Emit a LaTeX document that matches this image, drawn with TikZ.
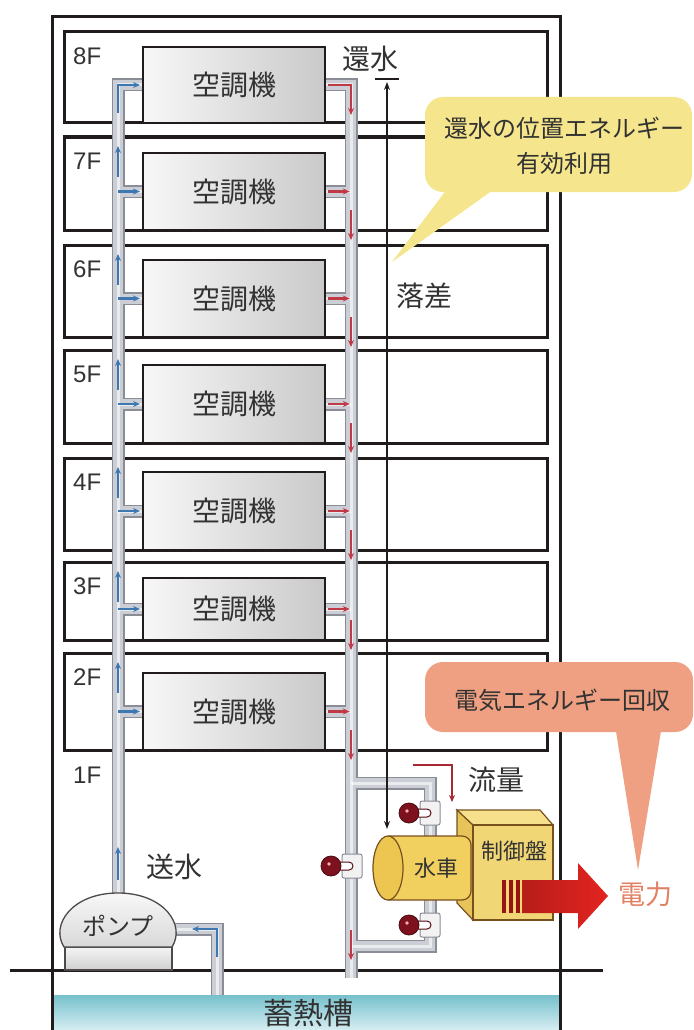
\documentclass[tikz,border=0pt]{standalone}
\usepackage{fontspec}
\setmainfont{Liberation Sans}
\newfontfamily\jp{Noto Sans CJK JP}
\usetikzlibrary{arrows.meta}
\definecolor{linecol}{RGB}{32,28,28}
\definecolor{txtcol}{RGB}{50,50,50}
\definecolor{supplyblue}{RGB}{62,120,178}
\definecolor{returnred}{RGB}{192,58,70}
\definecolor{flowred}{RGB}{165,40,50}
\definecolor{pipeedge}{RGB}{138,140,150}
\definecolor{pipefill}{RGB}{204,206,214}
\definecolor{notefill}{RGB}{245,229,140}
\definecolor{powerfill}{RGB}{239,160,130}
\definecolor{powertext}{RGB}{226,128,100}
\definecolor{machedge}{RGB}{120,80,30}
\definecolor{turbinefill}{RGB}{241,208,96}
\definecolor{turbinecap}{RGB}{236,198,80}
\definecolor{panelfront}{RGB}{241,214,118}
\definecolor{panelside}{RGB}{230,196,90}
\definecolor{paneltop}{RGB}{247,224,140}
\definecolor{valvered}{RGB}{125,18,30}
\definecolor{tanktop}{RGB}{118,192,204}
\definecolor{tankbot}{RGB}{214,238,242}
\definecolor{arrowred}{RGB}{228,36,32}
\definecolor{stripered}{RGB}{150,20,20}
\tikzset{
  wall/.style={draw=linecol,line width=3pt},
  acunit/.style={draw=linecol,line width=1.6pt,left color=gray!6,right color=gray!42,
    minimum width=182pt,inner sep=0pt,text=txtcol,font=\jp\fontsize{28}{30}\selectfont},
  pipeout/.style={draw=pipeedge,line width=13pt},
  pipein/.style={draw=pipefill,line width=10pt},
  pipehi/.style={draw=white,line width=3pt,opacity=.6},
  supflow/.style={supplyblue,line width=2.1pt,-{Stealth[length=7pt,width=6pt]}},
  retflow/.style={returnred,line width=2.1pt,-{Stealth[length=7pt,width=6pt]}},
  flabel/.style={anchor=west,inner sep=0pt,text=txtcol,font=\fontsize{24}{26}\selectfont},
  jlabel/.style={inner sep=0pt,text=txtcol,font=\jp\fontsize{28}{30}\selectfont},
  machine/.style={draw=machedge,line width=1.2pt},
  pics/valve/.style={code={
    \draw[pipeedge,fill=gray!10,line width=1pt,rounded corners=2pt] (-10,-12) rectangle (10,12);
    \draw[valvered!70!black,line width=1pt,fill=white] (-12,-4) -- (-3,-4) arc[start angle=-90,end angle=90,radius=4] -- (-12,4);
    \draw[valvered!60!black,fill=valvered,line width=.8pt] (-21,0) circle[radius=10];
    \fill[red!30!white] (-23,-2) circle[radius=1.8];
  }}
}
\begin{document}
\begin{tikzpicture}[x=1pt,y=-1pt]
\useasboundingbox (0,0) rectangle (693,1030);
\shade[top color=tanktop,bottom color=tankbot] (52,995) rectangle (560,1030);
\foreach \n/\ya/\yb/\yc in {8/32/123/47,7/137/230/153,6/245/337/260,5/350/443/365,4/458/550/472,3/562/640/578,2/653/750/673}{
    \draw[wall] (64,\ya) rectangle (547,\yb);
    \node[flabel] (fl\n) at (73,\ya+24) {\n F};
    \node[acunit,minimum height={(\yb-\yc)*1pt}] (ac\n) at (234,{(\yc+\yb)/2}) {空調機};
}
\node[flabel] (fl1) at (73,775) {1F};
\draw[wall] (52,1030) -- (52,17) -- (560,17) -- (560,1030);
\draw[wall] (10,970) -- (603,970);

\coordinate (sup) at (118,85);
\coordinate (ret) at (351,85);
\coordinate (pumptop) at (118,895);
\coordinate (retend) at (351,978);
\coordinate (pumpin) at (172,929);
\foreach \pass in {pipeout,pipein,pipehi}{
    \draw[\pass] (ac8.west) -- (sup) -- (pumptop);
    \draw[\pass] (ac8.east) -- (ret) -- (retend);
    \foreach \n in {7,...,2}{
        \draw[\pass] (ac\n.west) -- (sup |- ac\n.west);
        \draw[\pass] (ac\n.east) -- (ret |- ac\n.east);
    }
    \draw[\pass] (351,783) -- (430,783) -- (430,946) -- (351,946);
    \draw[\pass] (pumpin) -- (217,929) -- (217,995);
}

\draw[supflow] (118,113) -- (118,85) -- (140,85);
\draw[retflow] (328,85) -- (351,85) -- (351,115);
\foreach \n/\ya/\yb in {7/137/230,6/245/337,5/350/443,4/458/550,3/562/640,2/653/750}{
    \draw[supflow] (118,\ya+40) -- (118,\ya+9);
    \draw[supflow] (sup |- ac\n.west) -- ++(22,0);
    \draw[retflow] ([xshift=2pt]ac\n.east) -- ++(22,0);
    \draw[retflow] (351,\yb-20) -- (351,\yb+10);
}
\draw[retflow] (351,930) -- (351,960);
\draw[supflow] (118,880) -- (118,847);
\draw[supflow] (217,957) -- (217,929) -- (192,929);
\draw[flowred,line width=1.7pt,-{Stealth[length=7pt,width=6pt]}] (413,765) -- (452,765) -- (452,802);

% pump
\draw[draw=linecol!80,line width=1.3pt,top color=gray!8,bottom color=gray!38] (65,947) rectangle (172,970);
\draw[draw=linecol!80,line width=1.3pt,top color=gray!6,bottom color=gray!30]
    (64,947) .. controls (50,925) and (72,893) .. (118,893) .. controls (164,893) and (186,925) .. (172,947) -- cycle;
\node[jlabel,font=\jp\fontsize{24}{26}\selectfont] (pump) at (118,926) {ポンプ};

\pic at (430,813) {valve};
\pic at (430,925) {valve};
\pic at (352,866) {valve};

% control panel and turbine
\draw[machine,fill=panelside] (457,810) -- (473,825) -- (473,920) -- (457,903) -- cycle;
\draw[machine,fill=paneltop] (457,810) -- (540,810) -- (553,825) -- (473,825) -- cycle;
\draw[machine,fill=panelfront] (473,825) rectangle (553,920);
\node[jlabel,font=\jp\fontsize{22}{24}\selectfont] (panel) at (514,851) {制御盤};
\draw[machine,fill=turbinefill,rounded corners=9pt] (388,836) -- (471,836) -- (471,900) -- (388,900);
\draw[machine,fill=turbinecap] (388,868) ellipse[x radius=15,y radius=32];
\node[jlabel,font=\jp\fontsize{22}{24}\selectfont] (turbine) at (436,868) {水車};
\foreach \x in {502,509,516}
    \fill[stripered] (\x,880) rectangle ++(4,33);
\shade[left color=arrowred!80!black,right color=arrowred]
    (522,880) -- (578,880) -- (578,863) -- (608,896) -- (578,929) -- (578,913) -- (522,913) -- cycle;

\coordinate (headtop) at (387,82);
\coordinate (headbot) at (387,829);
\draw[linecol,line width=1.6pt] (375,79) -- (399,79);
\draw[linecol,line width=1.5pt,{Stealth[length=8pt,width=6pt]}-{Stealth[length=8pt,width=6pt]}] (headtop) -- (headbot);

\node[jlabel] (retlbl) at (370,59) {還水};
\node[jlabel] (droplbl) at (424,296) {落差};
\node[jlabel] (sendlbl) at (174,867) {送水};
\node[jlabel] (flowlbl) at (496,780) {流量};
\node[jlabel,font=\jp\fontsize{30}{32}\selectfont] (tanklbl) at (308,1013) {蓄熱槽};
\node[jlabel,font=\jp\fontsize{27}{29}\selectfont,text=powertext] (powerlbl) at (645,894) {電力};

% callouts
\fill[notefill] (450,185) -- (392,262) -- (500,185) -- cycle;
\fill[notefill,rounded corners=18pt] (425,97) rectangle (692,192);
\node[jlabel,align=center,font=\jp\fontsize{24}{35}\selectfont] (note) at (564,146) {還水の位置エネルギー\\有効利用};
\fill[powerfill] (615,725) -- (638,870) -- (662,725) -- cycle;
\fill[powerfill,rounded corners=18pt] (425,662) rectangle (693,732);
\node[jlabel,font=\jp\fontsize{24}{26}\selectfont] (power) at (562,700) {電気エネルギー回収};
\end{tikzpicture}
\end{document}
